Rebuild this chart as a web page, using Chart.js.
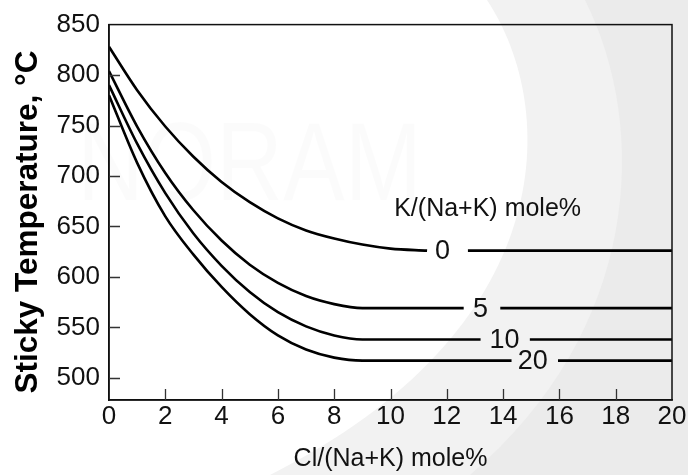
<!DOCTYPE html>
<html>
<head>
<meta charset="utf-8">
<script src="https://cdn.jsdelivr.net/npm/chart.js@4.4.0/dist/chart.umd.min.js"></script>
<style>
  html, body { margin: 0; padding: 0; background: #fff; }
</style>
</head>
<body>
<canvas id="myChart" width="688" height="475"></canvas>
<script>
// Values
const xVals = [0, 1, 2, 3, 4, 5, 6, 7, 8, 9, 10];
const series0 = [828, 785, 749, 719, 694, 674, 658, 646, 638, 632, 628];
const series5 = [804, 749, 703, 666, 636, 612, 594, 581, 573, 569, 569];
const series10 = [790, 732, 683, 643, 611, 585, 565, 551, 542, 538, 538];
const series20 = [780, 713, 660, 622, 590, 563, 542, 528, 520, 517, 517];
const plateau = [626, 569, 538, 517];
const curveLabels = ['0', '5', '10', '20'];
const gapStart = [11.3, 12.6, 13.2, 14.3];
const gapEnd = [12.75, 13.9, 14.95, 15.95];
const labelX = [11.85, 13.2, 14.05, 15.05];
const xTicks = [0, 2, 4, 6, 8, 10, 12, 14, 16, 18, 20];
const yTicks = [500, 550, 600, 650, 700, 750, 800, 850];
const legendTitle = 'K/(Na+K) mole%';
const legendTitleAt = {x: 13.45, y: 667};
const yTitle = 'Sticky Temperature, °C';

const FONT = "'Liberation Sans', Arial, sans-serif";
const ctx = document.getElementById("myChart");

//Build the points of one curve, with the hole where its label sits
const buildPoints = function(series, flat, gs, ge) {
  const pts = xVals.map((x, i) => ({x: x, y: series[i]}));
  pts.push({x: gs, y: flat});
  pts.push({x: gs, y: null});
  pts.push({x: ge, y: flat});
  pts.push({x: 20, y: flat});
  return pts;
};

const allSeries = [series0, series5, series10, series20];
const datasets = allSeries.map((s, i) => ({
  label: curveLabels[i],
  data: buildPoints(s, plateau[i], gapStart[i], gapEnd[i]),
  borderColor: '#000',
  borderWidth: 2.6,
  pointRadius: 0,
  fill: false,
  cubicInterpolationMode: 'monotone',
  spanGaps: false
}));

//Background, frame, inner ticks and the text on the plot
const decorations = {
  id: 'decorations',
  beforeDraw(chart) {
    const c = chart.ctx;
    const w = chart.width, h = chart.height;
    c.save();
    c.fillStyle = '#ffffff';
    c.fillRect(0, 0, w, h);
    // light grey swoosh on the right
    c.fillStyle = '#f2f2f2';
    c.beginPath();
    c.moveTo(487, 0);
    c.bezierCurveTo(560, 110, 560, 330, 270, h);
    c.lineTo(w, h);
    c.lineTo(w, 0);
    c.closePath();
    c.fill();
    c.fillStyle = '#ebebeb';
    c.beginPath();
    c.moveTo(585, 0);
    c.bezierCurveTo(650, 130, 640, 330, 470, h);
    c.lineTo(w, h);
    c.lineTo(w, 0);
    c.closePath();
    c.fill();
    c.fillStyle = 'rgba(0,0,0,0.016)';
    c.font = "112px " + FONT;
    c.textBaseline = 'alphabetic';
    c.fillText('NORAM', 77, 200, 345);
    c.restore();
  },
  afterDraw(chart) {
    const c = chart.ctx;
    const a = chart.chartArea;
    const xs = chart.scales.x;
    const ys = chart.scales.y;
    c.save();
    c.strokeStyle = '#111';
    c.lineWidth = 1.5;
    c.strokeRect(a.left, a.top, a.right - a.left, a.bottom - a.top);
    c.strokeStyle = '#333';
    c.lineWidth = 1.3;
    c.beginPath();
    xTicks.slice(1, -1).forEach(v => {
      const px = Math.round(xs.getPixelForValue(v)) + 0.5;
      c.moveTo(px, a.bottom);
      c.lineTo(px, a.bottom - 11);
    });
    yTicks.slice(0, -1).forEach(v => {
      const py = Math.round(ys.getPixelForValue(v)) + 0.5;
      c.moveTo(a.left, py);
      c.lineTo(a.left + 11, py);
    });
    c.stroke();

    c.fillStyle = '#111';
    c.textAlign = 'center';
    c.textBaseline = 'middle';
    c.font = "27px " + FONT;
    curveLabels.forEach((t, i) => {
      c.fillText(t, xs.getPixelForValue(labelX[i]), ys.getPixelForValue(plateau[i]) + 1);
    });
    c.font = "25px " + FONT;
    c.fillText(legendTitle, xs.getPixelForValue(legendTitleAt.x), ys.getPixelForValue(legendTitleAt.y));

    // y axis title, a bit below the middle of the plot like the original
    c.fillStyle = '#000';
    c.font = "bold 31.5px " + FONT;
    c.translate(28, 222);
    c.rotate(-Math.PI / 2);
    c.fillText(yTitle, 0, 0);
    c.restore();
  }
};

const myChart = new Chart(ctx, {
  type: 'line',
  data: { datasets: datasets },
  options: {
    responsive: false,
    animation: false,
    layout: { padding: { top: 23, right: 16, left: 0, bottom: 0 } },
    plugins: { legend: { display: false }, tooltip: { enabled: false } },
    scales: {
      x: {
        type: 'linear',
        min: 0,
        max: 20,
        afterBuildTicks: s => { s.ticks = xTicks.map(v => ({value: v})); },
        afterFit: s => { s.height = 75; },
        grid: { display: false, drawTicks: false },
        border: { display: true, color: '#111', width: 1.5 },
        ticks: { color: '#111', font: { family: FONT, size: 26 }, padding: 1, maxRotation: 0, autoSkip: false },
        title: { display: true, text: 'Cl/(Na+K) mole%', color: '#111', font: { family: FONT, size: 25 }, padding: { top: 0, bottom: 1 } }
      },
      y: {
        type: 'linear',
        min: 478,
        max: 850,
        afterBuildTicks: s => { s.ticks = yTicks.map(v => ({value: v})); },
        afterFit: s => { s.width = 109; },
        grid: { display: false, drawTicks: false },
        border: { display: true, color: '#111', width: 1.5 },
        ticks: { color: '#111', font: { family: FONT, size: 26 }, padding: 9, autoSkip: false }
      }
    }
  },
  plugins: [decorations]
});
</script>
</body>
</html>
